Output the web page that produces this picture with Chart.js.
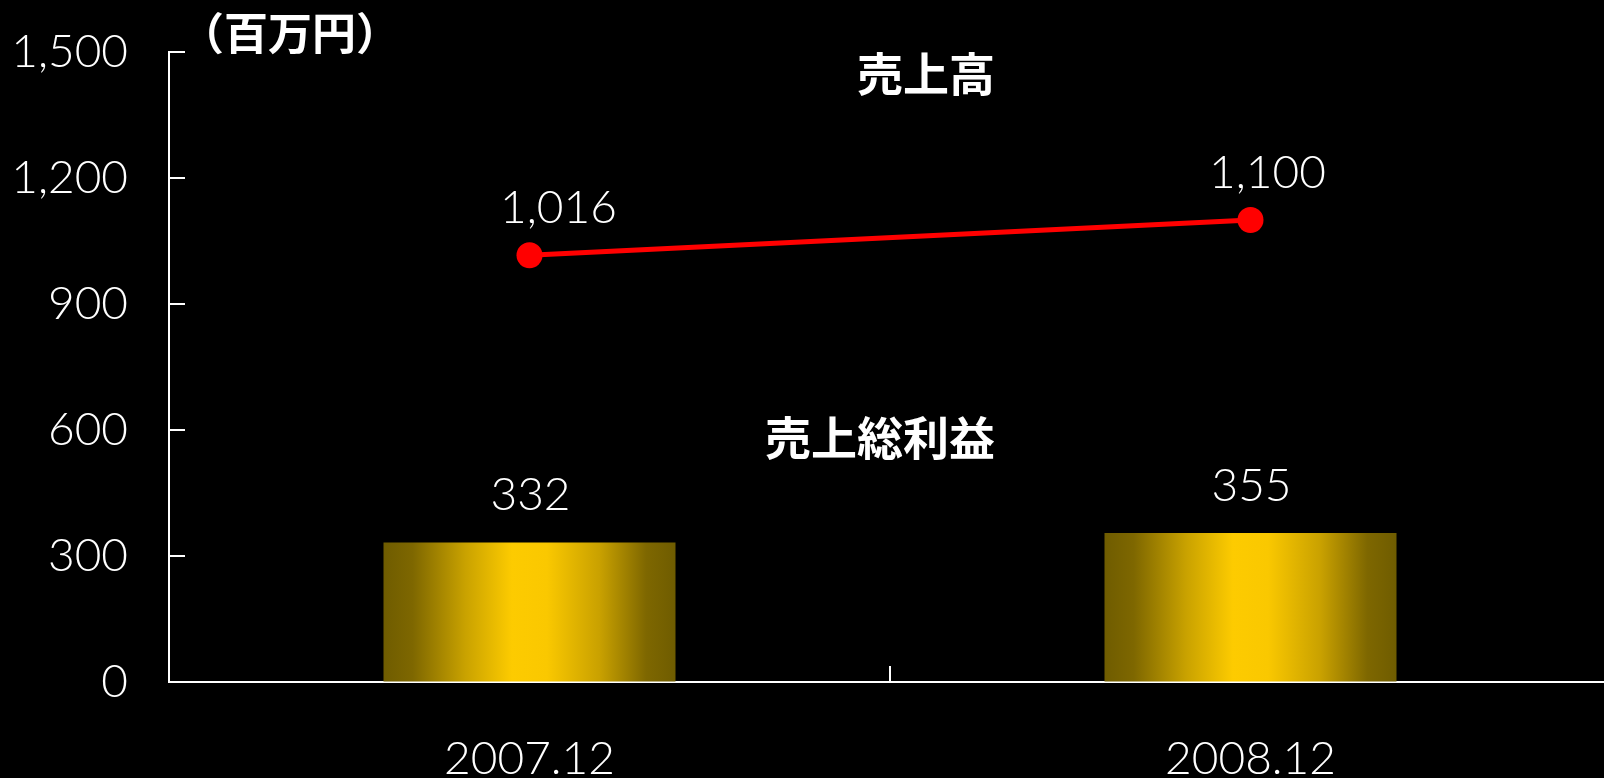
<!DOCTYPE html>
<html>
<head>
<meta charset="utf-8">
<script src="https://cdn.jsdelivr.net/npm/chart.js@4/dist/chart.umd.min.js"></script>
<style>
  html, body { margin: 0; padding: 0; background: #000; overflow: hidden; }
  #wrap { width: 1611px; height: 778px; }
</style>
</head>
<body>
<div id="wrap"><canvas id="salesChart"></canvas></div>
<script>
const periods = ['2007.12', '2008.12'];
const sales = [1016, 1100];
const grossProfit = [332, 355];
const yTicks = [0, 300, 600, 900, 1200, 1500];

const thinFont = '"Lato", "Noto Sans", sans-serif';
const jpFont = '"Noto Sans CJK JP", sans-serif';
const fmt = v => v.toLocaleString('en-US');

// gold gradient across each bar, dark at the edges, bright in the middle
const barFill = (context) => {
    const chart = context.chart;
    const x = chart.scales.x;
    if (!chart.chartArea || !x) return '#c9a000';
    const center = x.getPixelForValue(context.dataIndex);
    const half = x.width / periods.length * 0.405 / 2;
    const g = chart.ctx.createLinearGradient(center - half, 0, center + half, 0);
    g.addColorStop(0, '#6f5c00');
    g.addColorStop(0.1, '#7e6700');
    g.addColorStop(0.28, '#c9a200');
    g.addColorStop(0.44, '#fdcb00');
    g.addColorStop(0.56, '#fac800');
    g.addColorStop(0.74, '#c9a100');
    g.addColorStop(0.9, '#7e6700');
    g.addColorStop(1, '#6f5c00');
    return g;
};

const extras = {
    id: 'extras',
    afterDatasetsDraw(chart) {
        const ctx = chart.ctx;
        const x = chart.scales.x, y = chart.scales.y;
        ctx.save();
        // inward tick marks
        ctx.strokeStyle = '#fff';
        ctx.lineWidth = 2;
        yTicks.forEach(v => {
            const py = y.getPixelForValue(v);
            ctx.beginPath();
            ctx.moveTo(x.left, py);
            ctx.lineTo(x.left + 16, py);
            ctx.stroke();
        });
        const mid = x.getPixelForValue(0.5);
        ctx.beginPath();
        ctx.moveTo(mid, y.bottom);
        ctx.lineTo(mid, y.bottom - 16);
        ctx.stroke();

        // value labels
        ctx.fillStyle = '#fff';
        ctx.font = '300 46px ' + thinFont;
        ctx.textAlign = 'center';
        ctx.textBaseline = 'middle';
        chart.getDatasetMeta(0).data.forEach((bar, i) => {
            ctx.fillText(fmt(grossProfit[i]), bar.x + 1, bar.y - 47);
        });
        const lineShift = [29, 17];
        chart.getDatasetMeta(1).data.forEach((pt, i) => {
            ctx.fillText(fmt(sales[i]), pt.x + lineShift[i], pt.y - 47);
        });

        // series names and unit
        ctx.font = 'bold 46px ' + jpFont;
        ctx.fillText('売上高', 926, 74);
        ctx.fillText('売上総利益', 880, 438);
        ctx.font = 'bold 44px ' + jpFont;
        ctx.fillText('（百万円）', 290, 33);
        ctx.restore();
    }
};

new Chart(document.getElementById('salesChart'), {
    type: 'bar',
    data: {
        labels: periods,
        datasets: [{
            type: 'bar',
            label: '売上総利益',
            data: grossProfit,
            backgroundColor: barFill,
            borderWidth: 0,
            categoryPercentage: 1,
            barPercentage: 0.405,
            order: 2
        }, {
            type: 'line',
            label: '売上高',
            data: sales,
            borderColor: '#ff0000',
            backgroundColor: '#ff0000',
            borderWidth: 5,
            pointRadius: 13,
            pointHoverRadius: 13,
            pointBorderWidth: 0,
            tension: 0,
            order: 1
        }]
    },
    options: {
        responsive: true,
        maintainAspectRatio: false,
        animation: false,
        layout: { autoPadding: false, padding: { top: 52, right: 0, bottom: 0, left: 0 } },
        plugins: {
            legend: { display: false },
            tooltip: { enabled: false }
        },
        scales: {
            x: {
                offset: true,
                grid: { drawOnChartArea: false, drawTicks: false, offset: true },
                border: { display: true, color: '#fff', width: 2 },
                ticks: {
                    color: '#fff',
                    font: { family: thinFont, size: 46, weight: '300' },
                    padding: 50
                },
                afterFit: s => { s.height = 96; s.paddingLeft = 0; s.paddingRight = 0; }
            },
            y: {
                min: 0,
                max: 1500,
                afterBuildTicks: s => { s.ticks = yTicks.map(v => ({ value: v })); },
                grid: { drawOnChartArea: false, drawTicks: false },
                border: { display: true, color: '#fff', width: 2 },
                ticks: {
                    color: '#fff',
                    font: { family: thinFont, size: 46, weight: '300' },
                    padding: 41,
                    callback: v => fmt(v)
                },
                afterFit: s => { s.width = 169; s.paddingTop = 0; s.paddingBottom = 0; }
            }
        }
    },
    plugins: [extras]
});
</script>
</body>
</html>
